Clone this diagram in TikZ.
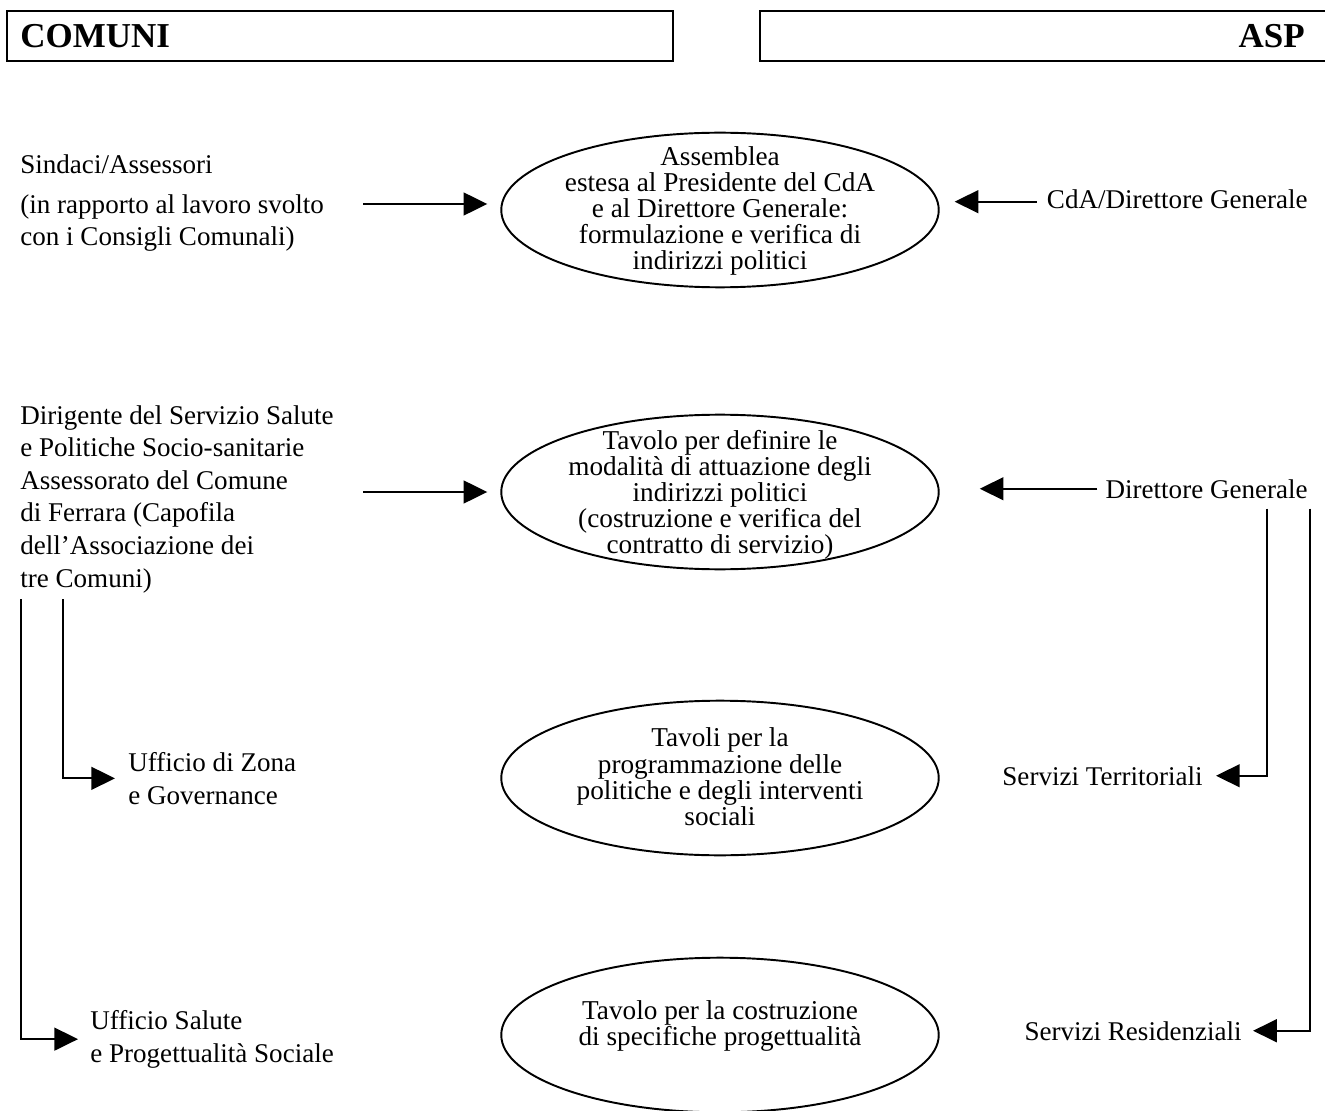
\documentclass[tikz,border=0pt]{standalone}
\usepackage{fontspec}
\setmainfont{Liberation Serif}
\usetikzlibrary{arrows.meta,shapes.geometric,positioning}

\tikzset{
  arr/.style={draw, line width=1.1pt, -{Triangle[length=13.5pt,width=13pt]}},
  titlebox/.style={draw, line width=1.1pt},
  tavolo/.style={draw, ellipse, line width=1.1pt, inner sep=0pt,
    minimum width=249pt, minimum height=88pt},
  testo/.style={inner sep=0pt, align=center,
    font=\fontsize{15.5pt}{14.9pt}\selectfont},
  lato/.style={inner sep=0pt, font=\fontsize{15.4pt}{18.5pt}\selectfont},
}

\begin{document}
\begin{tikzpicture}[x=0.02cm, y=-0.02cm]
  \useasboundingbox (0,0) rectangle (1325,1111);

  % intestazioni
  \draw[titlebox] (7,11) rectangle (673,61);
  \draw[titlebox] (760,11) rectangle (1340,61);
  \node[anchor=base west, inner sep=0pt, font=\fontsize{19.9pt}{20pt}\selectfont\bfseries] (comuni) at (20,48) {COMUNI};
  \node[anchor=base east, inner sep=0pt, font=\fontsize{19.9pt}{20pt}\selectfont\bfseries] (asp) at (1305,48) {ASP};

  % tavoli centrali
  \node[tavolo] (assemblea) at (720,210) {};
  \node[testo] at ([yshift=-0.6pt]assemblea) {Assemblea\\estesa al Presidente del CdA\\e al Direttore Generale:\\formulazione e verifica di\\indirizzi politici};
  \node[tavolo] (attuazione) at (720,492) {};
  \node[testo] at ([yshift=-1.6pt]attuazione) {Tavolo per definire le\\modalità di attuazione degli\\indirizzi politici\\(costruzione e verifica del\\contratto di servizio)};
  \node[tavolo] (programmazione) at (720,778) {};
  \node[testo] at ([yshift=0.6pt]programmazione) {Tavoli per la\\programmazione delle\\politiche e degli interventi\\sociali};
  \node[tavolo] (progetti) at (720,1035) {};
  \node[testo] at ([yshift=5pt]progetti) {Tavolo per la costruzione\\di specifiche progettualità};

  % lato comuni
  \node[lato, anchor=base west, align=left] (sindaci) at (20,246) {Sindaci/Assessori\\[4pt](in rapporto al lavoro svolto\\con i Consigli Comunali)};
  \node[lato, anchor=base west, align=left] (dirigente) at (20,587) {Dirigente del Servizio Salute\\e Politiche Socio-sanitarie\\Assessorato del Comune\\di Ferrara (Capofila\\dell’Associazione dei\\tre Comuni)};
  \node[lato, anchor=base west, align=left] (zona) at (128,804) {Ufficio di Zona\\e Governance};
  \node[lato, anchor=base west, align=left] (salute) at (90,1062) {Ufficio Salute\\e Progettualità Sociale};

  % lato ASP
  \node[lato, anchor=base east] (cda) at (1308,209) {CdA/Direttore Generale};
  \node[lato, anchor=base east] (direttore) at (1308,498) {Direttore Generale};
  \node[lato, anchor=base east] (territoriali) at (1203,785) {Servizi Territoriali};
  \node[lato, anchor=base east] (residenziali) at (1242,1040) {Servizi Residenziali};

  % frecce
  \draw[arr] ([shift={(-137,-6)}]assemblea.west) -- ([shift={(-13,-6)}]assemblea.west);
  \draw[arr] ([shift={(-137,0)}]attuazione.west) -- ([shift={(-13,0)}]attuazione.west);
  \draw[arr] ([xshift=-5.7pt,yshift=-1.1pt]cda.west) -- ([xshift=8.5pt,yshift=-1.1pt]assemblea.east |- cda.west);
  \draw[arr] ([xshift=-4.5pt]direttore.west) -- ([xshift=22.8pt]attuazione.east |- direttore.west);
  \draw[arr, shorten >=6.8pt] ([shift={(1,6)}]dirigente.south west) |- (salute.west);
  \draw[arr, shorten >=7.4pt] ([shift={(43,6)}]dirigente.south west) |- (zona.west);
  \draw[arr, shorten >=7.4pt] ([shift={(-41,10)}]direttore.south east) |- (territoriali.east);
  \draw[arr, shorten >=6.3pt] ([shift={(2,10)}]direttore.south east) |- (residenziali.east);
\end{tikzpicture}
\end{document}
